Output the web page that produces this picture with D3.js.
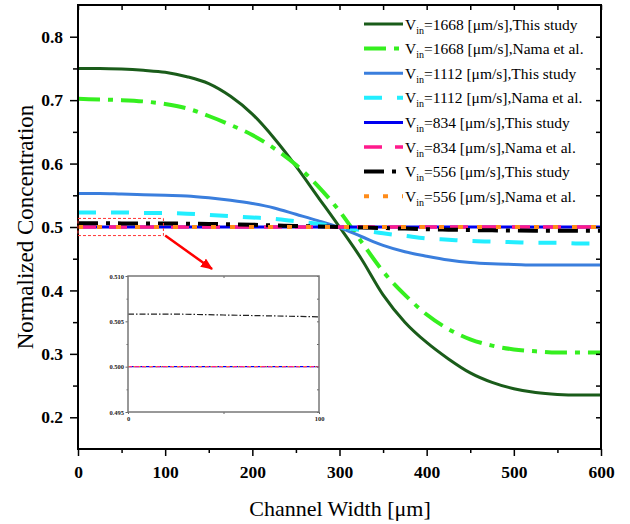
<!DOCTYPE html>
<html>
<head>
<meta charset="utf-8">
<script src="https://cdn.jsdelivr.net/npm/d3@7"></script>
<style>
  body { margin: 0; background: #fff; }
  text { font-family: "Liberation Serif", "Times New Roman", serif; }
</style>
</head>
<body>
<div class="vizHolder"></div>
<script>
// channel width positions [um]
var widthPts = [0, 25, 50, 75, 100, 125, 150, 175, 200, 225, 250, 275, 300,
                325, 350, 375, 400, 425, 450, 475, 500, 525, 550, 575, 600];

// normalized concentration
var c1668Study = [0.750, 0.750, 0.749, 0.747, 0.744, 0.737, 0.726, 0.706, 0.678, 0.640, 0.596, 0.548, 0.500,
                  0.450, 0.393, 0.350, 0.318, 0.292, 0.270, 0.255, 0.245, 0.239, 0.236, 0.235, 0.235];
var c1668Nama  = [0.702, 0.701, 0.700, 0.698, 0.694, 0.687, 0.675, 0.661, 0.645, 0.624, 0.598, 0.565, 0.525,
                  0.477, 0.430, 0.393, 0.362, 0.339, 0.323, 0.313, 0.307, 0.304, 0.302, 0.302, 0.302];
var c1112Study = [0.553, 0.553, 0.552, 0.551, 0.550, 0.549, 0.546, 0.542, 0.537, 0.530, 0.520, 0.510, 0.499,
                  0.485, 0.471, 0.461, 0.454, 0.448, 0.444, 0.442, 0.441, 0.440, 0.440, 0.440, 0.440];
var c1112Nama  = [0.523, 0.523, 0.523, 0.522, 0.522, 0.521, 0.519, 0.517, 0.515, 0.513, 0.509, 0.505, 0.500,
                  0.495, 0.490, 0.486, 0.482, 0.480, 0.478, 0.477, 0.476, 0.475, 0.475, 0.474, 0.474];
var c834Study  = [0.500, 0.500, 0.500, 0.500, 0.500, 0.500, 0.500, 0.500, 0.500, 0.500, 0.500, 0.500, 0.500,
                  0.500, 0.500, 0.500, 0.500, 0.500, 0.500, 0.500, 0.500, 0.500, 0.500, 0.500, 0.500];
var c834Nama   = [0.500, 0.500, 0.500, 0.500, 0.500, 0.500, 0.500, 0.500, 0.500, 0.500, 0.500, 0.500, 0.500,
                  0.500, 0.500, 0.500, 0.500, 0.500, 0.500, 0.500, 0.500, 0.500, 0.500, 0.500, 0.500];
var c556Study  = [0.5058, 0.5058, 0.5057, 0.5056, 0.5055, 0.5052, 0.5048, 0.5042, 0.5035, 0.5026, 0.5016, 0.5008, 0.5000,
                  0.4992, 0.4984, 0.4975, 0.4966, 0.4958, 0.4952, 0.4947, 0.4944, 0.4942, 0.4942, 0.4942, 0.4942];
var c556Nama   = [0.500, 0.500, 0.500, 0.500, 0.500, 0.500, 0.500, 0.500, 0.500, 0.500, 0.500, 0.500, 0.500,
                  0.500, 0.500, 0.500, 0.500, 0.500, 0.500, 0.500, 0.500, 0.500, 0.500, 0.500, 0.500];

// legend labels
var velocities = [1668, 1668, 1112, 1112, 834, 834, 556, 556];
var sources = ['This study', 'Nama et al.', 'This study', 'Nama et al.',
               'This study', 'Nama et al.', 'This study', 'Nama et al.'];

// tick labels
var xTicks = [0, 100, 200, 300, 400, 500, 600];
var xMinor = [50, 150, 250, 350, 450, 550];
var yTicks = [0.2, 0.3, 0.4, 0.5, 0.6, 0.7, 0.8];
var yMinor = [0.25, 0.35, 0.45, 0.55, 0.65, 0.75];
var insetYTicks = [0.495, 0.500, 0.505, 0.510];
var insetYMinor = [0.4975, 0.5025, 0.5075];
var insetXTicks = [0, 100];

var allValues = [c1668Study, c1668Nama, c1112Study, c1112Nama, c834Study, c834Nama, c556Study, c556Nama];

// line styles, same order as the legend
var styles = [
  {color: '#1a5c1a', w: 3,   dash: null},
  {color: '#35ef1f', w: 4,   dash: '22,8,5,8'},
  {color: '#3a7edd', w: 3,   dash: null},
  {color: '#22eeff', w: 4,   dash: '18,15'},
  {color: '#0000f0', w: 3,   dash: null},
  {color: '#ff1a8c', w: 3.5, dash: '18,13'},
  {color: '#000000', w: 4,   dash: '20,8,4,8'},
  {color: '#ff8c1a', w: 4,   dash: '5,14'}
];

var width = 630,
    height = 524;

var svg = d3.select('.vizHolder')
            .append('svg')
            .attr('width', width)
            .attr('height', height);

var x = d3.scaleLinear().domain([0, 600]).range([78, 601]);
var y = d3.scaleLinear().domain([0.15, 0.85]).range([449, 5]);

// main curves
var line = d3.line()
             .x(function(d){ return x(d[0]); })
             .y(function(d){ return y(d[1]); })
             .curve(d3.curveMonotoneX);

allValues.forEach(function(vals, i){
    var pts = widthPts.map(function(w, j){ return [w, vals[j]]; });
    svg.append('path')
       .attr('d', line(pts))
       .attr('fill', 'none')
       .attr('stroke', styles[i].color)
       .attr('stroke-width', styles[i].w)
       .attr('stroke-dasharray', styles[i].dash);
});

// axes
function styleAxis(g){
    g.select('.domain').remove();
    g.selectAll('line').attr('stroke', '#000').attr('stroke-width', 1.5);
    g.selectAll('text').attr('font-size', 17.5).attr('font-weight', 'bold')
     .attr('font-family', '"Liberation Serif", serif').attr('fill', '#000');
}

svg.append('g').attr('transform', 'translate(0,449)')
   .call(d3.axisBottom(x).tickValues(xTicks).tickSize(7).tickPadding(10).tickFormat(d3.format('d')))
   .call(styleAxis);
svg.append('g').attr('transform', 'translate(0,449)')
   .call(d3.axisBottom(x).tickValues(xMinor).tickSize(4).tickFormat(''))
   .call(styleAxis);
svg.append('g').attr('transform', 'translate(0,5)')
   .call(d3.axisTop(x).tickValues(xTicks.concat(xMinor)).tickSize(-5).tickFormat(''))
   .call(styleAxis);

svg.append('g').attr('transform', 'translate(78,0)')
   .call(d3.axisLeft(y).tickValues(yTicks).tickSize(8).tickPadding(7).tickFormat(d3.format('.1f')))
   .call(styleAxis);
svg.append('g').attr('transform', 'translate(78,0)')
   .call(d3.axisLeft(y).tickValues(yMinor).tickSize(5).tickFormat(''))
   .call(styleAxis);
svg.append('g').attr('transform', 'translate(601,0)')
   .call(d3.axisRight(y).tickValues(yTicks.concat(yMinor)).tickSize(-5).tickFormat(''))
   .call(styleAxis);

// frame
svg.append('rect')
   .attr('x', 78).attr('y', 5)
   .attr('width', 601 - 78).attr('height', 449 - 5)
   .attr('fill', 'none').attr('stroke', '#000').attr('stroke-width', 2);

// axis titles
svg.append('text')
   .attr('x', 340).attr('y', 516)
   .attr('text-anchor', 'middle')
   .attr('font-size', 22)
   .text('Channel Width [\u03bcm]');

svg.append('text')
   .attr('transform', 'translate(33,227) rotate(-90)')
   .attr('text-anchor', 'middle')
   .attr('font-size', 23)
   .text('Normalized Concentration');

// legend
var legend = svg.append('g');
velocities.forEach(function(v, i){
    var ly = 24 + i * 24.6;
    legend.append('line')
          .attr('x1', 364).attr('x2', 403)
          .attr('y1', ly).attr('y2', ly)
          .attr('stroke', styles[i].color)
          .attr('stroke-width', styles[i].w)
          .attr('stroke-dasharray', styles[i].dash);
    var t = legend.append('text')
                  .attr('x', 405).attr('y', ly + 5.5)
                  .attr('font-size', 15.5);
    t.append('tspan').text('V');
    t.append('tspan').attr('dy', 4).attr('font-size', 10).text('in');
    t.append('tspan').attr('dy', -4).text('=' + v + ' [\u03bcm/s],' + sources[i]);
});

// zoom box and arrow
svg.append('rect')
   .attr('x', x(0)).attr('y', y(0.5135))
   .attr('width', x(98) - x(0)).attr('height', y(0.4865) - y(0.5135))
   .attr('fill', 'none').attr('stroke', '#ff3333')
   .attr('stroke-width', 1).attr('stroke-dasharray', '3,2');

// inset
var ix = d3.scaleLinear().domain([0, 100]).range([128, 319]);
var iy = d3.scaleLinear().domain([0.495, 0.510]).range([412, 276]);

svg.append('defs').append('marker')
   .attr('id', 'arrow')
   .attr('viewBox', '0 0 12 10')
   .attr('refX', 11).attr('refY', 5)
   .attr('markerWidth', 12).attr('markerHeight', 10)
   .attr('markerUnits', 'userSpaceOnUse')
   .attr('orient', 'auto')
   .append('path').attr('d', 'M0,0 L12,5 L0,10 Z').attr('fill', '#ff0000');

svg.append('line')
   .attr('x1', x(100)).attr('y1', y(0.4865))
   .attr('x2', ix(44)).attr('y2', iy(0.510) - 7)
   .attr('stroke', '#ff0000').attr('stroke-width', 2.5)
   .attr('marker-end', 'url(#arrow)');

var inset = svg.append('g');
inset.append('rect')
     .attr('x', 128).attr('y', 276).attr('width', 319 - 128).attr('height', 412 - 276)
     .attr('fill', '#fff');

var iline = d3.line()
              .x(function(d){ return ix(d[0]); })
              .y(function(d){ return iy(d[1]); });

var insetStyles = [
  {idx: 4, color: '#0000f0', dash: null},
  {idx: 5, color: '#ff1a8c', dash: '4,3'},
  {idx: 7, color: '#ff8c1a', dash: '1.5,4'},
  {idx: 6, color: '#222222', dash: '6,2,1.5,2'}
];
insetStyles.forEach(function(s){
    var pts = widthPts.map(function(w, j){ return [w, allValues[s.idx][j]]; })
                      .filter(function(d){ return d[0] <= 100; });
    inset.append('path')
         .attr('d', iline(pts))
         .attr('fill', 'none')
         .attr('stroke', s.color)
         .attr('stroke-width', 1.2)
         .attr('stroke-dasharray', s.dash);
});

function styleInset(g){
    g.select('.domain').remove();
    g.selectAll('line').attr('stroke', '#666').attr('stroke-width', 1);
    g.selectAll('text').attr('font-size', 6.5).attr('font-weight', 'bold')
     .attr('font-family', '"Liberation Serif", serif').attr('fill', '#222');
}

inset.append('g').attr('transform', 'translate(128,0)')
     .call(d3.axisLeft(iy).tickValues(insetYTicks).tickSize(2.5).tickPadding(1.5).tickFormat(d3.format('.3f')))
     .call(styleInset);
inset.append('g').attr('transform', 'translate(128,0)')
     .call(d3.axisLeft(iy).tickValues(insetYMinor).tickSize(1.5).tickFormat(''))
     .call(styleInset);
inset.append('g').attr('transform', 'translate(319,0)')
     .call(d3.axisRight(iy).tickValues(insetYTicks.concat(insetYMinor)).tickSize(-2).tickFormat(''))
     .call(styleInset);
inset.append('g').attr('transform', 'translate(0,412)')
     .call(d3.axisBottom(ix).tickValues(insetXTicks).tickSize(2).tickPadding(2).tickFormat(d3.format('d')))
     .call(styleInset);
inset.append('g').attr('transform', 'translate(0,412)')
     .call(d3.axisBottom(ix).tickValues([50]).tickSize(2).tickFormat(''))
     .call(styleInset);
inset.append('g').attr('transform', 'translate(0,276)')
     .call(d3.axisTop(ix).tickValues([50]).tickSize(-2).tickFormat(''))
     .call(styleInset);

inset.append('rect')
     .attr('x', 128).attr('y', 276).attr('width', 319 - 128).attr('height', 412 - 276)
     .attr('fill', 'none').attr('stroke', '#777').attr('stroke-width', 1.5);
</script>
</body>
</html>
